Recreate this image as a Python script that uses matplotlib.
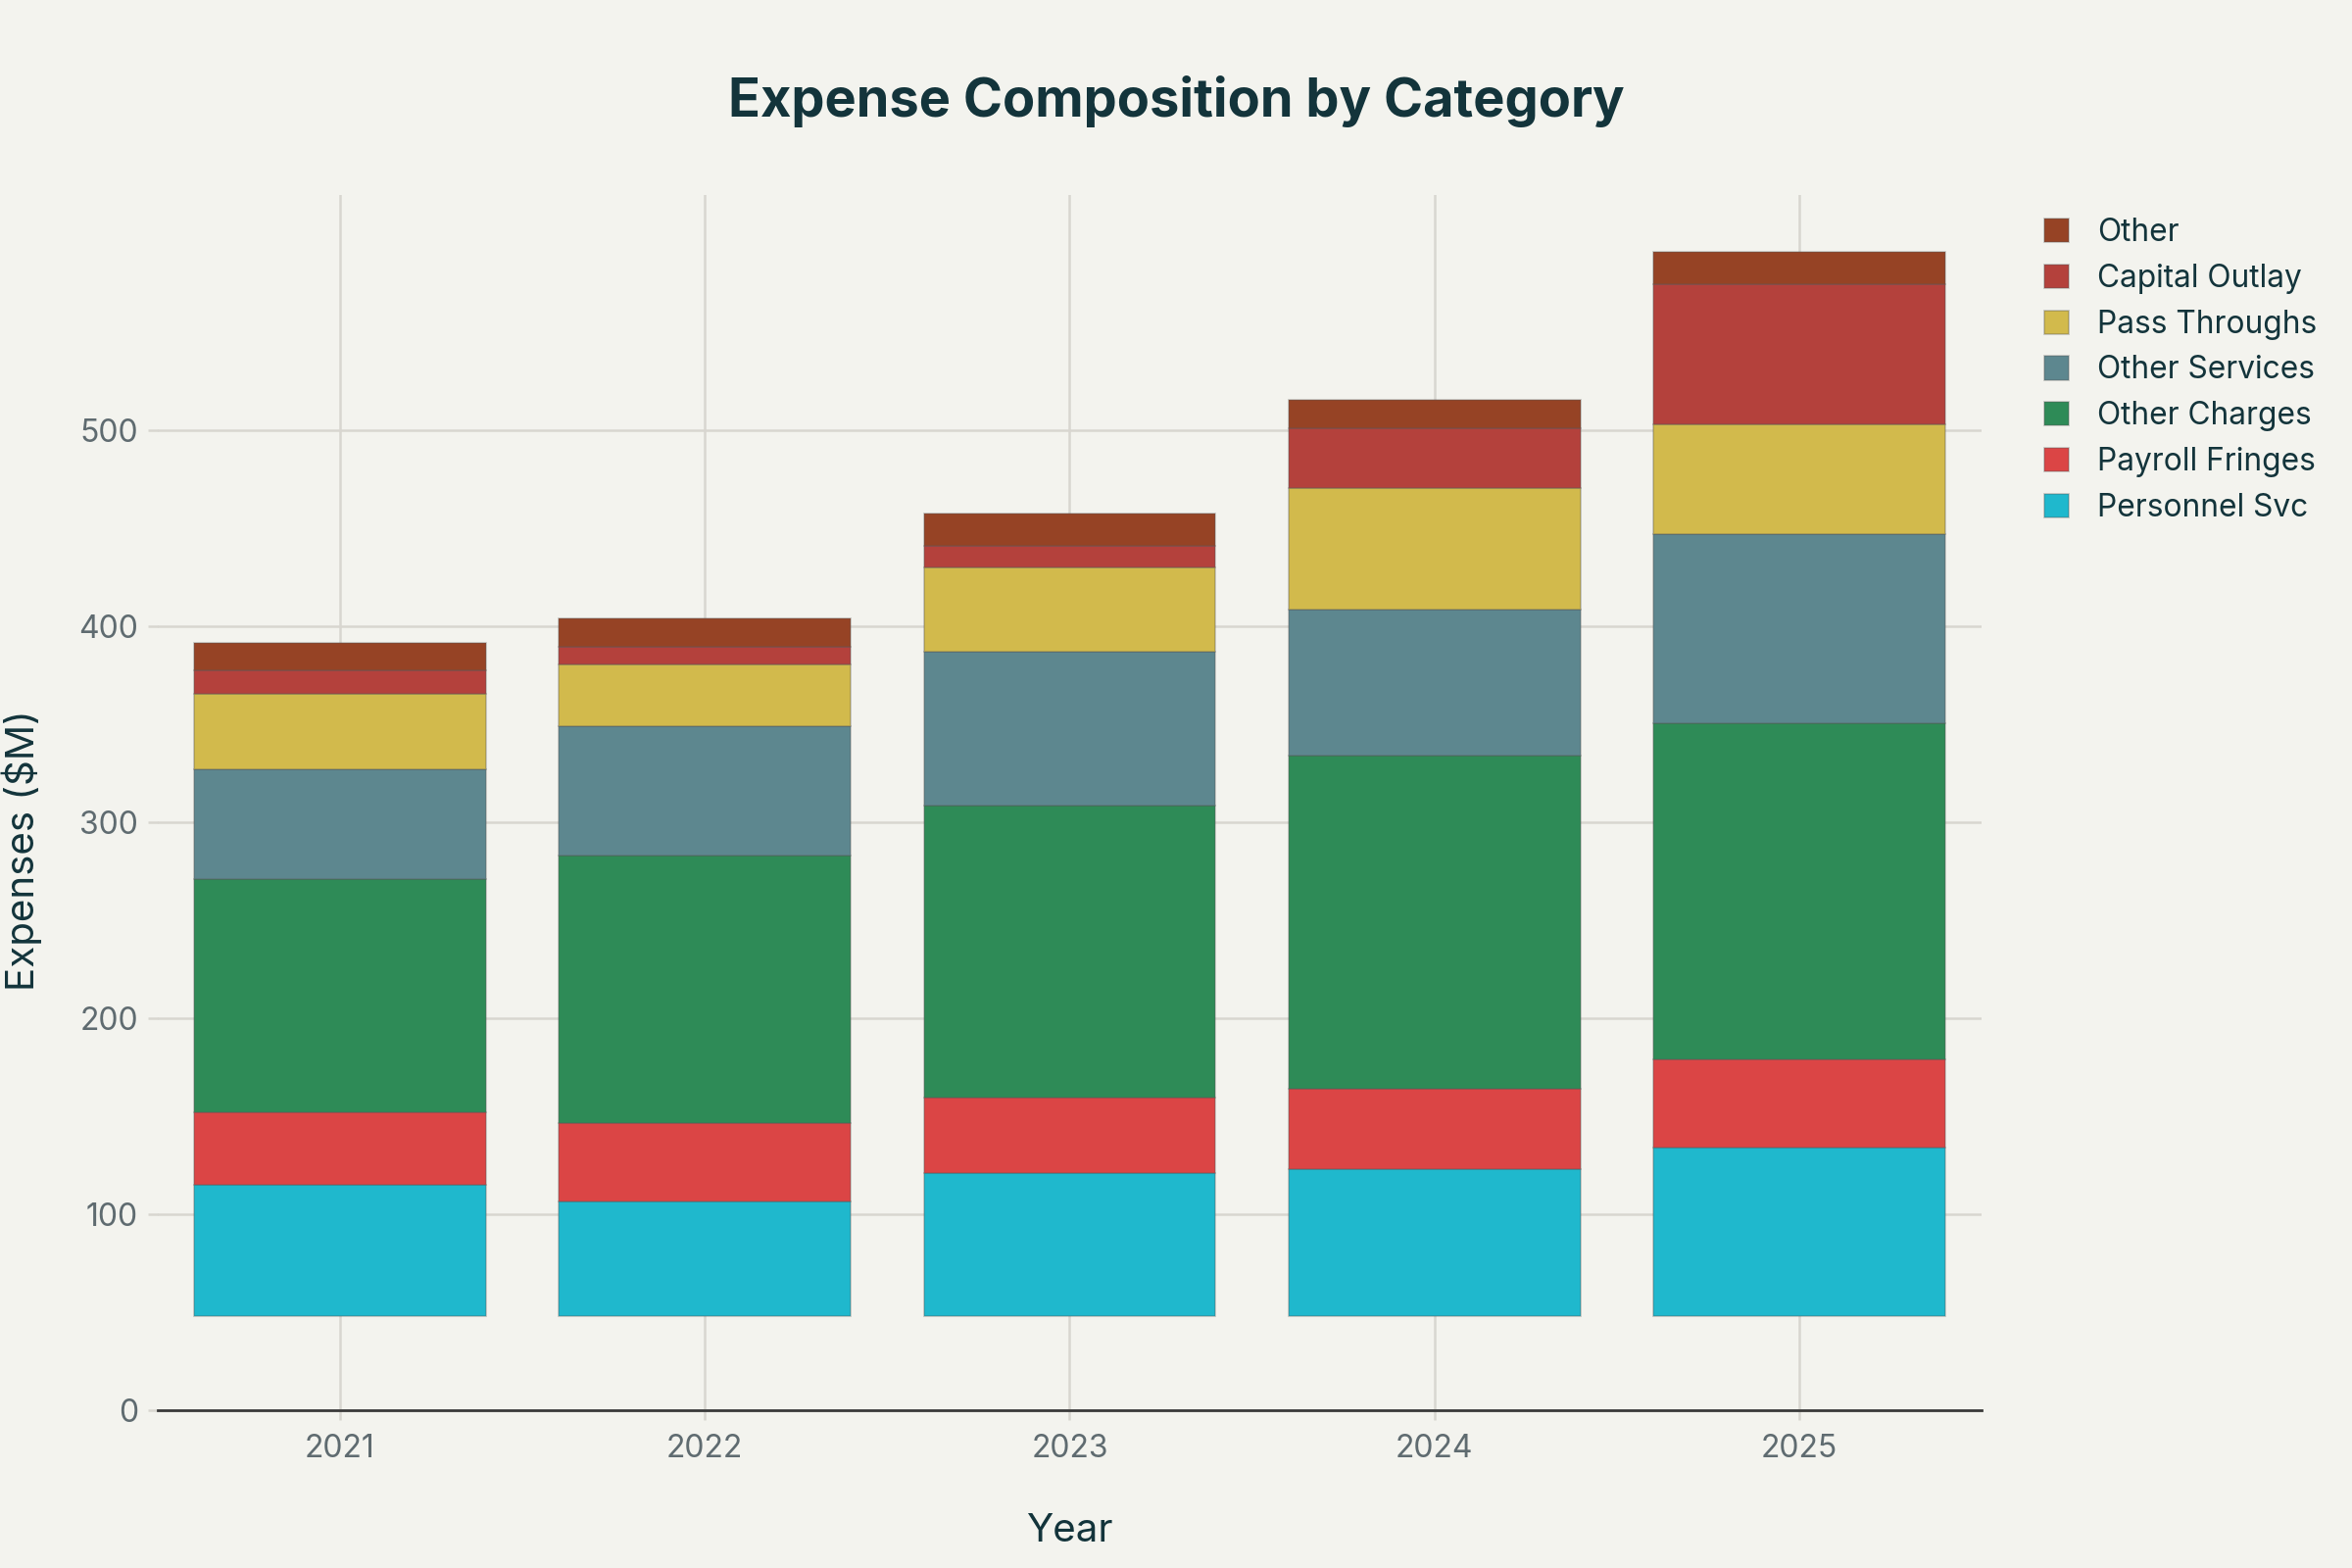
import numpy as np
import matplotlib
matplotlib.use("Agg")
import matplotlib.pyplot as plt

# Datos (millones de USD)
years = ["2021", "2022", "2023", "2024", "2025"]
bar_base = 48.1  # las barras arrancan por encima de cero

personnel_svc = [66.7, 58.5, 73.0, 75.0, 85.8]
payroll_fringes = [37.4, 39.8, 38.5, 40.7, 45.2]
other_charges = [118.9, 136.8, 148.9, 170.4, 171.6]
other_services = [56.0, 65.9, 78.3, 74.2, 96.2]
pass_throughs = [38.2, 31.5, 43.1, 62.2, 56.0]
capital_outlay = [12.0, 8.7, 11.2, 30.2, 71.7]
other = [14.1, 14.5, 16.2, 14.5, 16.6]

series = [
    ("Personnel Svc", personnel_svc, "#1FB8CD"),
    ("Payroll Fringes", payroll_fringes, "#DB4545"),
    ("Other Charges", other_charges, "#2E8B57"),
    ("Other Services", other_services, "#5D878F"),
    ("Pass Throughs", pass_throughs, "#D2BA4C"),
    ("Capital Outlay", capital_outlay, "#B4413C"),
    ("Other", other, "#964325"),
]

bg = "#F3F3EE"
dark = "#13343B"
grey = "#5F6B70"

plt.rcParams["font.family"] = ["Inter", "DejaVu Sans"]

fig = plt.figure(figsize=(12, 8), dpi=200, facecolor=bg)
ax = fig.add_axes([0.067, 0.1006, 0.7755, 0.775])
ax.set_facecolor(bg)

x = np.arange(len(years))
bottom = np.full(len(years), bar_base)
handles = []
for name, vals, color in series:
    vals = np.array(vals)
    b = ax.bar(x, vals, width=0.8, bottom=bottom, color=color,
               edgecolor=(0.35, 0.35, 0.35, 0.35), linewidth=0.6,
               label=name, zorder=3)
    handles.append(b)
    bottom = bottom + vals

ax.set_xlim(-0.5, len(years) - 0.5)
ax.set_ylim(0, 620)
ax.set_xticks(x)
ax.set_xticklabels(years)
ax.set_yticks([0, 100, 200, 300, 400, 500])

ax.grid(True, color="#D8D6D0", linewidth=0.9, zorder=0)
for s in ["top", "right", "left"]:
    ax.spines[s].set_visible(False)
ax.spines["bottom"].set_color("#3A3A3A")
ax.spines["bottom"].set_linewidth(1.0)
ax.spines["bottom"].set_zorder(4)

ax.tick_params(axis="both", colors="#D8D6D0", length=3.6, width=0.9,
               labelcolor=grey, labelsize=11.5)
ax.tick_params(axis="x", pad=5)
ax.tick_params(axis="y", pad=3.5)

ax.set_xlabel("Year", fontsize=14.5, color=dark)
ax.set_ylabel("Expenses ($M)", fontsize=14.5, color=dark)
ax.xaxis.set_label_coords(0.5, -0.085)
ax.yaxis.set_label_coords(-0.0632, 0.4605)

fig.text(0.5, 1 - 119 / 1600, "Expense Composition by Category",
         ha="center", va="baseline", fontsize=19.5, fontweight="bold", color=dark)

leg = ax.legend(handles[::-1], [s[0] for s in series][::-1],
                loc="upper left", bbox_to_anchor=(2086 / 2400, 1 - 222 / 1600),
                bbox_transform=fig.transFigure, frameon=False, fontsize=11.4,
                handlelength=0.8, handleheight=0.8, handletextpad=0.9,
                labelspacing=0.5, borderaxespad=0, borderpad=0)
for t in leg.get_texts():
    t.set_color(dark)

fig.savefig("out.png", dpi=200, facecolor=bg)
